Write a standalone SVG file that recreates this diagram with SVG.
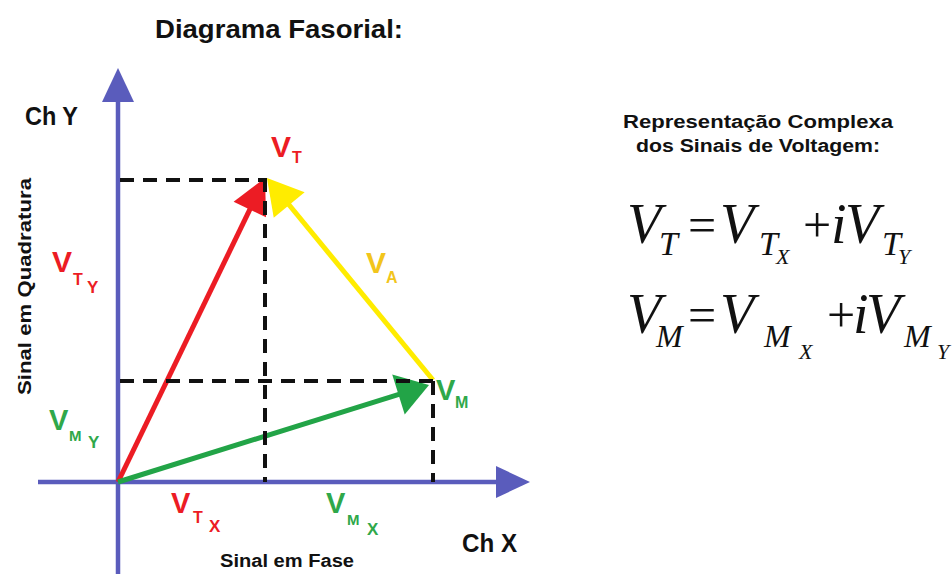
<svg xmlns="http://www.w3.org/2000/svg" width="952" height="574" viewBox="0 0 952 574">
<defs>
<style>
.sans{font-family:"Liberation Sans",Arial,sans-serif;font-weight:bold}
.blk{fill:#111}
.red{fill:#ec1c24}
.grn{fill:#2fa84a}
.gold{fill:#f2c51c}
.eq{font-family:"Liberation Serif","Times New Roman",serif;fill:#111}
.it{font-style:italic}
.up{font-style:normal}
.axis{stroke:#5a5cbc;stroke-width:4.5;fill:none}
.vec{stroke-width:5;fill:none}
.dash{stroke:#111;stroke-width:4;stroke-dasharray:14 9;fill:none}
</style>
<marker id="ah-blue" markerUnits="userSpaceOnUse" markerWidth="34" markerHeight="34" refX="12" refY="16" orient="auto" overflow="visible"><path d="M0,0 L34,16 L0,32 Z" fill="#5a5cbc"/></marker>
<marker id="ah-red" markerUnits="userSpaceOnUse" markerWidth="35" markerHeight="36" refX="11" refY="18" orient="auto" overflow="visible"><path d="M0,0 L35,18 L0,36 Z" fill="#ec1c24"/></marker>
<marker id="ah-yellow" markerUnits="userSpaceOnUse" markerWidth="35" markerHeight="40" refX="11" refY="20" orient="auto" overflow="visible"><path d="M0,0 L35,20 L0,40 Z" fill="#ffec00"/></marker>
<marker id="ah-green" markerUnits="userSpaceOnUse" markerWidth="32" markerHeight="42" refX="8" refY="21" orient="auto" overflow="visible"><path d="M0,0 L32,21 L0,42 Z" fill="#22a447"/></marker>
</defs>
<rect width="952" height="574" fill="#ffffff"/>

<g id="title">
<text class="sans blk" x="155" y="38" font-size="25" textLength="248" lengthAdjust="spacingAndGlyphs">Diagrama Fasorial:</text>
</g>

<g id="axes">
<line class="axis" x1="118" y1="574" x2="118" y2="90" marker-end="url(#ah-blue)"/>
<line class="axis" x1="38" y1="482" x2="508" y2="482" marker-end="url(#ah-blue)"/>
<text class="sans blk" x="25" y="125" font-size="25" textLength="53" lengthAdjust="spacingAndGlyphs">Ch Y</text>
<text class="sans blk" x="462" y="552" font-size="25" textLength="55" lengthAdjust="spacingAndGlyphs">Ch X</text>
<text class="sans blk" x="220" y="567" font-size="18" textLength="134" lengthAdjust="spacingAndGlyphs">Sinal em Fase</text>
<text class="sans blk" transform="translate(31,395) rotate(-90)" x="0" y="0" font-size="18" textLength="217" lengthAdjust="spacingAndGlyphs">Sinal em Quadratura</text>
</g>

<g id="connectors">
<line id="vec-VT" class="vec" stroke="#ec1c24" x1="118" y1="482" x2="254.6" y2="199.6" marker-end="url(#ah-red)"/>
<line id="vec-VM" class="vec" stroke="#22a447" x1="118" y1="482" x2="406.1" y2="392.1" marker-end="url(#ah-green)"/>
<line id="vec-VA" class="vec" stroke="#ffec00" x1="433" y1="380" x2="282.2" y2="196.5" marker-end="url(#ah-yellow)"/>
</g>

<g id="guides">
<line class="dash" x1="120" y1="180" x2="265" y2="180"/>
<line class="dash" x1="265" y1="178" x2="265" y2="482"/>
<line class="dash" x1="120" y1="381" x2="433" y2="381"/>
<line class="dash" x1="433" y1="381" x2="433" y2="482"/>
</g>

<g id="labels" class="sans">
<text id="lbl-VT" class="red" x="271" y="157" font-size="30">V<tspan x="292" y="163" font-size="16">T</tspan></text>
<text id="lbl-VA" class="gold" x="366" y="273" font-size="30">V<tspan x="386" y="283" font-size="16">A</tspan></text>
<text id="lbl-VM" class="grn" x="436" y="400" font-size="29">V<tspan x="455" y="408" font-size="16">M</tspan></text>
<text id="lbl-VTY" class="red" x="52" y="272" font-size="30">V<tspan x="73" y="285" font-size="16">T</tspan><tspan x="87" y="293" font-size="17">Y</tspan></text>
<text id="lbl-VMY" class="grn" x="49" y="430" font-size="29">V<tspan x="69" y="441" font-size="15">M</tspan><tspan x="88" y="448" font-size="17">Y</tspan></text>
<text id="lbl-VTX" class="red" x="171" y="513" font-size="29">V<tspan x="193" y="523" font-size="16">T</tspan><tspan x="209" y="532" font-size="17">X</tspan></text>
<text id="lbl-VMX" class="grn" x="326" y="513" font-size="29">V<tspan x="347" y="525" font-size="15">M</tspan><tspan x="367" y="535" font-size="17">X</tspan></text>
</g>

<g id="representation">
<text class="sans blk" x="758" y="128" font-size="18" text-anchor="middle" textLength="270" lengthAdjust="spacingAndGlyphs">Representação Complexa</text>
<text class="sans blk" x="758" y="152" font-size="18" text-anchor="middle" textLength="244" lengthAdjust="spacingAndGlyphs">dos Sinais de Voltagem:</text>
</g>

<g id="eq-VT" class="eq">
<text class="it" x="627" y="243" font-size="56">V<tspan x="659" y="255" font-size="34">T</tspan><tspan class="up" x="688" y="242" font-size="50">=</tspan><tspan x="720" y="243" font-size="56">V</tspan><tspan x="759" y="255" font-size="34">T</tspan><tspan x="776" y="264" font-size="22">X</tspan><tspan class="up" x="803" y="242" font-size="50">+</tspan><tspan x="831" y="243" font-size="56">i</tspan><tspan x="845" y="243" font-size="56">V</tspan><tspan x="882" y="255" font-size="34">T</tspan><tspan x="898" y="264" font-size="22">Y</tspan></text>
</g>

<g id="eq-VM" class="eq">
<text class="it" x="627" y="333" font-size="56">V<tspan x="656" y="347" font-size="32">M</tspan><tspan class="up" x="688" y="332" font-size="50">=</tspan><tspan x="720" y="333" font-size="56">V</tspan><tspan x="764" y="347" font-size="32">M</tspan><tspan x="799" y="359" font-size="22">X</tspan><tspan class="up" x="827" y="332" font-size="50">+</tspan><tspan x="853" y="333" font-size="56">i</tspan><tspan x="866" y="333" font-size="56">V</tspan><tspan x="904" y="347" font-size="32">M</tspan><tspan x="937" y="359" font-size="22">Y</tspan></text>
</g>
</svg>
